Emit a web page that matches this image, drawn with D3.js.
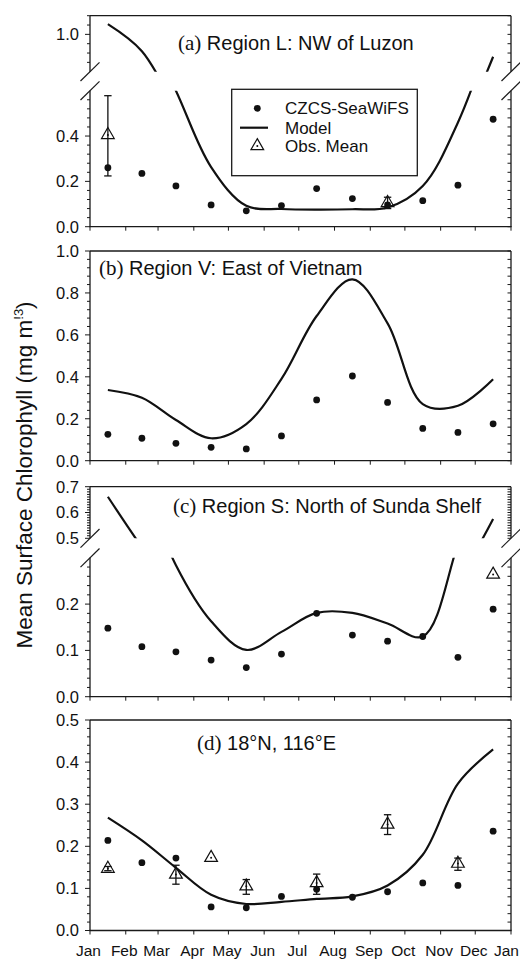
<!DOCTYPE html>
<html>
<head>
<meta charset="utf-8">
<script src="https://cdn.jsdelivr.net/npm/d3@7"></script>
<style>
  body { margin: 0; background: #fff; }
  svg { display: block; }
</style>
</head>
<body>
<svg id="chart" width="520" height="959"></svg>
<script>
// ---- data -------------------------------------------------------------
const monthLabels = ["Jan","Feb","Mar","Apr","May","Jun","Jul","Aug","Sep","Oct","Nov","Dec","Jan"];

// (a) Region L: NW of Luzon
const czcsA  = [0.26, 0.235, 0.18, 0.096, 0.07, 0.093, 0.168, 0.124, 0.096, 0.115, 0.183, 0.474];
const modelA = [1.055, 0.91, 0.60, 0.263, 0.092, 0.078, 0.075, 0.077, 0.085, 0.18, 0.46, 0.88];
const obsMonthA = [0, 8];
const obsA      = [0.405, 0.105];
const obsLoA    = [0.224, 0.08];
const obsHiA    = [0.578, 0.13];

// (b) Region V: East of Vietnam
const czcsB  = [0.126, 0.107, 0.083, 0.064, 0.056, 0.118, 0.29, 0.404, 0.278, 0.154, 0.135, 0.176];
const modelB = [0.337, 0.30, 0.194, 0.107, 0.175, 0.39, 0.69, 0.865, 0.655, 0.27, 0.262, 0.388];

// (c) Region S: North of Sunda Shelf
const czcsC  = [0.148, 0.108, 0.097, 0.079, 0.063, 0.092, 0.18, 0.133, 0.12, 0.13, 0.085, 0.189];
const modelC = [0.661, 0.465, 0.284, 0.163, 0.101, 0.14, 0.181, 0.181, 0.158, 0.13, 0.33, 0.575];
const obsMonthC = [11];
const obsC      = [0.264];
const obsLoC    = [0.264];
const obsHiC    = [0.264];

// (d) 18°N, 116°E
const czcsD  = [0.214, 0.161, 0.172, 0.056, 0.054, 0.081, 0.098, 0.079, 0.092, 0.113, 0.107, 0.236];
const modelD = [0.268, 0.214, 0.149, 0.085, 0.063, 0.068, 0.075, 0.081, 0.107, 0.18, 0.349, 0.43];
const obsMonthD = [0, 2, 3, 4, 6, 8, 10];
const obsD      = [0.147, 0.133, 0.173, 0.105, 0.113, 0.252, 0.159];
const obsLoD    = [0.142, 0.11, 0.173, 0.086, 0.086, 0.228, 0.143];
const obsHiD    = [0.152, 0.155, 0.173, 0.121, 0.134, 0.275, 0.172];

// ---- layout ------------------------------------------------------------
const X0 = 90, X1 = 511;
const AXIS = "#1a1a1a";
const SANS = "'Liberation Sans', Arial, Helvetica, sans-serif";
const SERIF = "'Liberation Serif', 'Times New Roman', serif";

const yearStart = new Date(Date.UTC(2001, 0, 1));
const yearEnd   = new Date(Date.UTC(2002, 0, 1));
const x = d3.scaleUtc().domain([yearStart, yearEnd]).range([X0, X1]);
const monthStarts = d3.utcMonth.range(yearStart, d3.utcDay.offset(yearEnd, 1));
const monthMid = d3.range(12).map(i => new Date((+monthStarts[i] + +monthStarts[i + 1]) / 2));

const panels = [
  { key: "a", top: 15.7, bottom: 226.7,
    segs: [
      { domain: [0, 0.6],   y0: 226.7, y1: 90.7, minor: 0.04, labels: [0, 0.2, 0.4] },
      { domain: [0.8, 1.1], y0: 71.7,  y1: 15.7, minor: 0.05, labels: [1.0] }
    ],
    czcs: czcsA, model: modelA, obsMonth: obsMonthA, obs: obsA, lo: obsLoA, hi: obsHiA,
    tag: "(a)", title: " Region L: NW of Luzon", tx: 178, ty: 50 },
  { key: "b", top: 251, bottom: 460.7,
    segs: [
      { domain: [0, 1.0], y0: 460.7, y1: 251, minor: 0.04, labels: [0, 0.2, 0.4, 0.6, 0.8, 1.0] }
    ],
    czcs: czcsB, model: modelB, obsMonth: [], obs: [], lo: [], hi: [],
    tag: "(b)", title: " Region V: East of Vietnam", tx: 99, ty: 275 },
  { key: "c", top: 486.7, bottom: 696.7,
    segs: [
      { domain: [0, 0.3],   y0: 696.7, y1: 557.8, minor: 0.02, labels: [0, 0.1, 0.2] },
      { domain: [0.5, 0.7], y0: 538.3, y1: 486.7, minor: 0.01, labels: [0.5, 0.6, 0.7] }
    ],
    czcs: czcsC, model: modelC, obsMonth: obsMonthC, obs: obsC, lo: obsLoC, hi: obsHiC,
    tag: "(c)", title: " Region S: North of Sunda Shelf", tx: 173, ty: 512.7 },
  { key: "d", top: 720, bottom: 930.5,
    segs: [
      { domain: [0, 0.5], y0: 930.5, y1: 720, minor: 0.02, labels: [0, 0.1, 0.2, 0.3, 0.4, 0.5] }
    ],
    czcs: czcsD, model: modelD, obsMonth: obsMonthD, obs: obsD, lo: obsLoD, hi: obsHiD,
    tag: "(d)", title: " 18°N, 116°E", tx: 197, ty: 750 }
];

const svg = d3.select("#chart");
const defs = svg.append("defs");

panels.forEach(p => {
  const g = svg.append("g").attr("class", "panel-" + p.key);
  p.segs.forEach(s => { s.scale = d3.scaleLinear().domain(s.domain).range([s.y0, s.y1]); });
  const near = (a, b) => Math.abs(a - b) < 1e-6;
  const yOf = v => {
    const s = p.segs.find(s => v >= s.domain[0] - 1e-9 && v <= s.domain[1] + 1e-9);
    return s ? s.scale(v) : null;
  };

  // frame: top and bottom edges, then side edges for each y segment
  g.append("line").attr("x1", X0).attr("x2", X1).attr("y1", p.top).attr("y2", p.top)
    .attr("stroke", AXIS).attr("stroke-width", 1.3);
  g.append("line").attr("x1", X0 - 0.65).attr("x2", X1 + 0.65).attr("y1", p.bottom).attr("y2", p.bottom)
    .attr("stroke", AXIS).attr("stroke-width", 1.3);
  p.segs.forEach((s, i) => {
    const yb = i === 0 ? p.bottom : s.y0;
    const yt = i === p.segs.length - 1 ? p.top : s.y1;
    [X0, X1].forEach(xx => {
      g.append("line").attr("x1", xx).attr("x2", xx).attr("y1", yb).attr("y2", yt)
        .attr("stroke", AXIS).attr("stroke-width", 1.3);
    });
  });

  // break marks where the y axis jumps between segments
  for (let i = 0; i < p.segs.length - 1; i++) {
    [p.segs[i].y1, p.segs[i + 1].y0].forEach(yy => {
      [X0, X1].forEach(xx => {
        g.append("line").attr("x1", xx - 9.5).attr("y1", yy + 9.3)
          .attr("x2", xx + 9.5).attr("y2", yy - 9.3)
          .attr("stroke", AXIS).attr("stroke-width", 1.2);
      });
    });
  }

  // y ticks (left outward, right inward) and labels
  p.segs.forEach((s, i) => {
    const n = Math.round((s.domain[1] - s.domain[0]) / s.minor);
    const vals = d3.range(n + 1).map(k => s.domain[0] + k * s.minor);
    vals.forEach(v => {
      const isMajor = s.labels.some(l => near(l, v));
      const atBreak = (i > 0 && near(v, s.domain[0])) || (i < p.segs.length - 1 && near(v, s.domain[1]));
      if (atBreak && !isMajor) return;
      const yy = s.scale(v);
      g.append("line").attr("x1", X0 - (isMajor ? 5 : 3)).attr("x2", X0).attr("y1", yy).attr("y2", yy)
        .attr("stroke", AXIS).attr("stroke-width", 1);
      g.append("line").attr("x1", X1 - 3.5).attr("x2", X1).attr("y1", yy).attr("y2", yy)
        .attr("stroke", AXIS).attr("stroke-width", 1);
    });
    s.labels.forEach(v => {
      g.append("text").attr("x", 79).attr("y", s.scale(v)).attr("dy", "0.36em")
        .attr("text-anchor", "end").attr("font-family", SANS).attr("font-size", 16.5)
        .attr("fill", "#111").text(d3.format(".1f")(v));
    });
  });

  // month ticks on the bottom edge
  monthStarts.forEach(d => {
    g.append("line").attr("x1", x(d)).attr("x2", x(d)).attr("y1", p.bottom).attr("y2", p.bottom + 4)
      .attr("stroke", AXIS).attr("stroke-width", 1);
  });

  // model curve, drawn once per y segment and clipped to it
  p.segs.forEach((s, i) => {
    const id = "clip-" + p.key + i;
    defs.append("clipPath").attr("id", id).append("rect")
      .attr("x", X0).attr("y", s.y1).attr("width", X1 - X0).attr("height", s.y0 - s.y1);
    const line = d3.line().x((d, k) => x(monthMid[k])).y(d => s.scale(d)).curve(d3.curveCatmullRom.alpha(0.5));
    g.append("path").attr("d", line(p.model)).attr("clip-path", `url(#${id})`)
      .attr("fill", "none").attr("stroke", "#111").attr("stroke-width", 2.2)
      .attr("stroke-linejoin", "round");
  });

  // CZCS-SeaWiFS monthly means
  p.czcs.forEach((v, k) => {
    const yy = yOf(v);
    if (yy === null) return;
    g.append("circle").attr("cx", x(monthMid[k])).attr("cy", yy).attr("r", 3.4).attr("fill", "#111");
  });

  // observed means with error bars
  p.obsMonth.forEach((m, k) => {
    const cx = x(monthMid[m]);
    const lo = yOf(p.lo[k]), hi = yOf(p.hi[k]);
    if (Math.abs(lo - hi) > 0.5) {
      g.append("line").attr("x1", cx).attr("x2", cx).attr("y1", lo).attr("y2", hi)
        .attr("stroke", "#111").attr("stroke-width", 1.3);
      [lo, hi].forEach(yy => g.append("line").attr("x1", cx - 3.7).attr("x2", cx + 3.7)
        .attr("y1", yy).attr("y2", yy).attr("stroke", "#111").attr("stroke-width", 1.3));
    }
    const cy = yOf(p.obs[k]);
    g.append("path").attr("d", d3.symbol(d3.symbolTriangle).size(70)())
      .attr("transform", `translate(${cx},${cy})`)
      .attr("fill", "none").attr("stroke", "#111").attr("stroke-width", 1.2);
    g.append("circle").attr("cx", cx).attr("cy", cy).attr("r", 1).attr("fill", "#111");
  });

  // panel title
  const t = g.append("text").attr("x", p.tx).attr("y", p.ty).attr("fill", "#111");
  t.append("tspan").attr("font-family", SERIF).attr("font-size", 21).text(p.tag);
  t.append("tspan").attr("font-family", SANS).attr("font-size", 20).text(p.title);
});

// legend in panel (a)
const lg = svg.append("g").attr("class", "legend");
lg.append("rect").attr("x", 231.7).attr("y", 89.3).attr("width", 185.6).attr("height", 86.4)
  .attr("fill", "#fff").attr("stroke", AXIS).attr("stroke-width", 1.3);
const legendItems = [
  { label: "CZCS-SeaWiFS", kind: "dot", y: 108.3 },
  { label: "Model", kind: "line", y: 127.7 },
  { label: "Obs. Mean", kind: "tri", y: 146 }
];
legendItems.forEach(it => {
  if (it.kind === "dot") {
    lg.append("circle").attr("cx", 257.3).attr("cy", it.y).attr("r", 3.4).attr("fill", "#111");
  } else if (it.kind === "line") {
    lg.append("line").attr("x1", 240).attr("x2", 268).attr("y1", it.y).attr("y2", it.y)
      .attr("stroke", "#111").attr("stroke-width", 2.2);
  } else {
    lg.append("path").attr("d", d3.symbol(d3.symbolTriangle).size(70)())
      .attr("transform", `translate(257.3,${it.y})`)
      .attr("fill", "none").attr("stroke", "#111").attr("stroke-width", 1.2);
    lg.append("circle").attr("cx", 257.3).attr("cy", it.y).attr("r", 1).attr("fill", "#111");
  }
  lg.append("text").attr("x", 285).attr("y", it.y).attr("dy", "0.36em")
    .attr("font-family", SANS).attr("font-size", 17).attr("fill", "#111").text(it.label);
});

// month labels under the last panel; the closing "Jan" is kept inside the page
monthStarts.forEach((d, i) => {
  const last = i === monthStarts.length - 1;
  svg.append("text").attr("x", last ? 519 : x(d) - 1.5).attr("y", 956)
    .attr("text-anchor", last ? "end" : "middle")
    .attr("font-family", SANS).attr("font-size", 15.5).attr("fill", "#111").text(monthLabels[i]);
});

// shared y-axis title
const yt = svg.append("text").attr("transform", "translate(31.5,475) rotate(-90)")
  .attr("text-anchor", "middle").attr("font-family", SANS).attr("font-size", 22.5).attr("fill", "#111");
yt.append("tspan").text("Mean Surface Chlorophyll (mg m");
yt.append("tspan").attr("font-size", 13).attr("dy", -9).text("!3");
yt.append("tspan").attr("dy", 9).text(")");
</script>
</body>
</html>
